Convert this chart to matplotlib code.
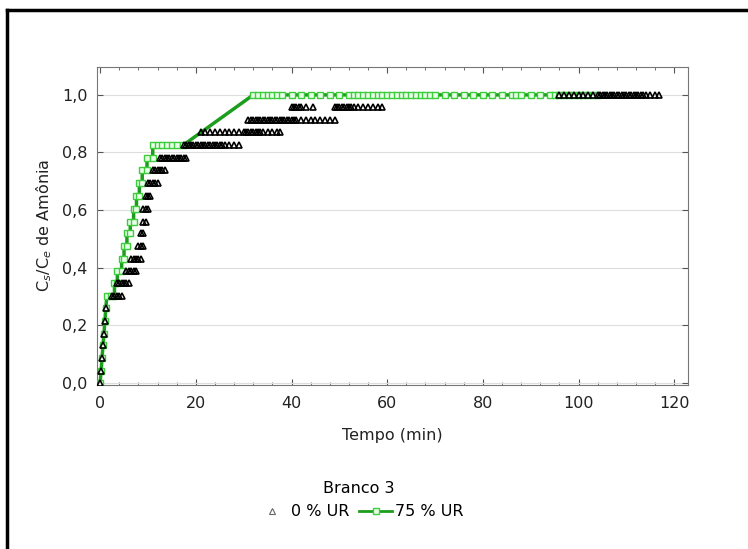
import matplotlib.pyplot as plt
from matplotlib.lines import Line2D

plt.rcParams['font.family'] = ['DejaVu Sans']

# --- 0 % UR (triangles): readings grouped by quantised level ---
lvl_start_t = [0.0, 0.2, 0.4, 0.6, 0.8, 1.0, 1.2]
lvl_start_v = [0.0, 0.04, 0.085, 0.13, 0.17, 0.215, 0.26]

levels_0 = [0.30, 0.345, 0.39, 0.43, 0.475, 0.52, 0.56, 0.605, 0.65,
            0.695, 0.74, 0.78, 0.826, 0.87, 0.913, 0.957, 1.0]
times_0 = [
    [2.5, 3.0, 3.5, 4.0, 4.5],
    [3.5, 4.0, 4.5, 5.0, 5.5, 6.0],
    [5.5, 6.0, 6.5, 7.0, 7.5],
    [6.5, 7.0, 7.5, 8.0, 8.5],
    [8.0, 8.5, 9.0],
    [8.5, 9.0],
    [9.0, 9.5],
    [9.0, 9.5, 10.0],
    [9.5, 10.0, 10.5],
    [10.0, 10.5, 11.0, 11.5, 12.0],
    [11.0, 11.5, 12.0, 12.5, 13.0, 13.5],
    [12.5, 13.0, 13.5, 14.0, 14.5, 15.0, 15.5, 16.0, 16.5, 17.0, 17.5, 18.0],
    [17.5, 18.0, 18.5, 19.0, 19.5, 20.0, 20.5, 21.0, 21.5, 22.0, 22.5, 23.0,
     23.5, 24.0, 24.5, 25.0, 25.5, 26.0, 27.0, 28.0, 29.0],
    [21.0, 22.0, 23.0, 24.0, 25.0, 26.0, 27.0, 28.0, 29.0, 30.0, 30.5, 31.0,
     31.5, 32.0, 32.5, 33.0, 33.5, 34.0, 35.0, 36.0, 37.0, 37.6],
    [31.0, 31.5, 32.0, 32.5, 33.0, 33.5, 34.0, 34.5, 35.0, 35.5, 36.0, 36.5,
     37.0, 37.5, 38.0, 38.5, 39.0, 39.5, 40.0, 40.5, 41.0, 42.0, 43.0, 44.0,
     45.0, 46.0, 47.0, 48.0, 49.0],
    [40.0, 40.5, 41.0, 41.5, 42.0, 43.0, 44.5, 49.0, 49.5, 50.0, 50.5, 51.0,
     51.5, 52.0, 52.5, 53.0, 54.0, 55.0, 56.0, 57.0, 58.0, 59.0],
    [96.0, 97.0, 98.0, 99.0, 100.0, 101.0, 102.0, 103.0, 104.0, 104.5, 105.0,
     105.5, 106.0, 106.5, 107.0, 107.5, 108.0, 108.5, 109.0, 109.5, 110.0,
     110.5, 111.0, 111.5, 112.0, 112.5, 113.0, 113.5, 114.0, 115.0, 116.0,
     116.8],
]

t0 = list(lvl_start_t)
v0 = list(lvl_start_v)
for lv, ts in zip(levels_0, times_0):
    t0 += ts
    v0 += [lv] * len(ts)

# --- 75 % UR (green line with squares) ---
t75 = [0.0, 0.2, 0.4, 0.6, 0.8, 1.0, 1.2, 1.4, 2.2, 3.0, 3.0, 3.6, 3.6, 4.5,
       4.5, 5.0, 5.0, 5.6, 5.6, 6.3, 6.3, 7.0, 7.0, 7.6, 7.6, 8.2, 8.2, 8.8,
       8.8, 9.8, 9.8, 11.0, 11.0, 12.0, 13.0, 14.0, 15.0, 16.0, 17.4,
       32.0, 33.0, 34.0, 35.0, 36.0, 37.0, 38.0, 40.0, 42.0, 44.0, 46.0,
       48.0, 50.0, 52.0, 53.0, 54.0, 55.0, 56.0, 57.0, 58.0, 59.0, 60.0,
       61.0, 62.0, 63.0, 64.0, 65.0, 66.0, 67.0, 68.0, 69.0, 70.0, 72.0,
       74.0, 76.0, 78.0, 80.0, 82.0, 84.0, 86.0, 87.0, 88.0, 90.0, 92.0,
       94.0, 95.0, 96.0, 97.0, 98.0, 99.0, 100.0, 101.0, 102.0, 103.0, 104.0]
v75 = [0.0, 0.04, 0.085, 0.13, 0.17, 0.215, 0.26, 0.30, 0.30, 0.30, 0.345,
       0.345, 0.39, 0.39, 0.43, 0.43, 0.475, 0.475, 0.52, 0.52, 0.56, 0.56,
       0.605, 0.605, 0.65, 0.65, 0.695, 0.695, 0.74, 0.74, 0.78, 0.78, 0.826,
       0.826, 0.826, 0.826, 0.826, 0.826, 0.826] + [1.0] * 55

fig = plt.figure(figsize=(7.48, 5.49), dpi=100)
ax = fig.add_axes([0.130, 0.299, 0.790, 0.579])

ax.plot(t75, v75, color='#1d9d1d', lw=2.5, marker='s', ms=4,
        mfc='#eaffea', mec='#3ccc3c', mew=1.0, zorder=3, label='75 % UR')
ax.plot(t0, v0, ls='none', marker='^', ms=5, mfc='none', mec='black',
        mew=1.2, zorder=4, label='0 % UR')

ax.set_xlim(-0.6, 122.9)
ax.set_ylim(-0.007, 1.097)
ax.set_xticks([0, 20, 40, 60, 80, 100, 120])
ax.set_yticks([0.0, 0.2, 0.4, 0.6, 0.8, 1.0])
ax.set_yticklabels(['0,0', '0,2', '0,4', '0,6', '0,8', '1,0'])
ax.set_xticks(range(0, 121, 4), minor=True)
ax.tick_params(which='both', direction='in', top=True, right=True,
               colors='#555555', labelcolor='#222222', labelsize=11.5)
ax.tick_params(which='major', length=4)
ax.tick_params(which='minor', length=2)
ax.tick_params(axis='y', which='major', pad=7)
ax.tick_params(axis='x', which='major', pad=8)
ax.grid(axis='y', color='#dddddd', lw=0.8)
ax.set_axisbelow(True)
for s in ax.spines.values():
    s.set_color('#777777')

ax.set_xlabel('Tempo (min)', fontsize=11.5, color='#222222', labelpad=12)
ax.set_ylabel('C$_s$/C$_e$ de Amônia', fontsize=11.5, color='#222222',
              labelpad=6)

h0 = Line2D([], [], ls='none', marker='^', ms=5, mfc='none',
            mec='#666666', mew=0.8)
h75 = Line2D([], [], color='#1d9d1d', lw=2, marker='s', ms=4,
             mfc='#eaffea', mec='#3ccc3c')
leg = fig.legend([h0, h75], ['0 % UR', '75 % UR'], title='Branco 3',
                 ncol=2, frameon=False, loc='center',
                 bbox_to_anchor=(0.480, 0.089), fontsize=11.5,
                 title_fontsize=11.5, handlelength=2.1, handletextpad=0.15,
                 columnspacing=0.6, borderpad=0.2, labelspacing=0.5)

# outer frame (top and left edges visible)
fig.add_artist(Line2D([0.0094, 1.0], [0.982, 0.982], color='black', lw=2.5,
                      transform=fig.transFigure))
fig.add_artist(Line2D([0.0094, 0.0094], [0.0, 0.982], color='black', lw=2.5,
                      transform=fig.transFigure))

fig.savefig('out.png', dpi=100)
